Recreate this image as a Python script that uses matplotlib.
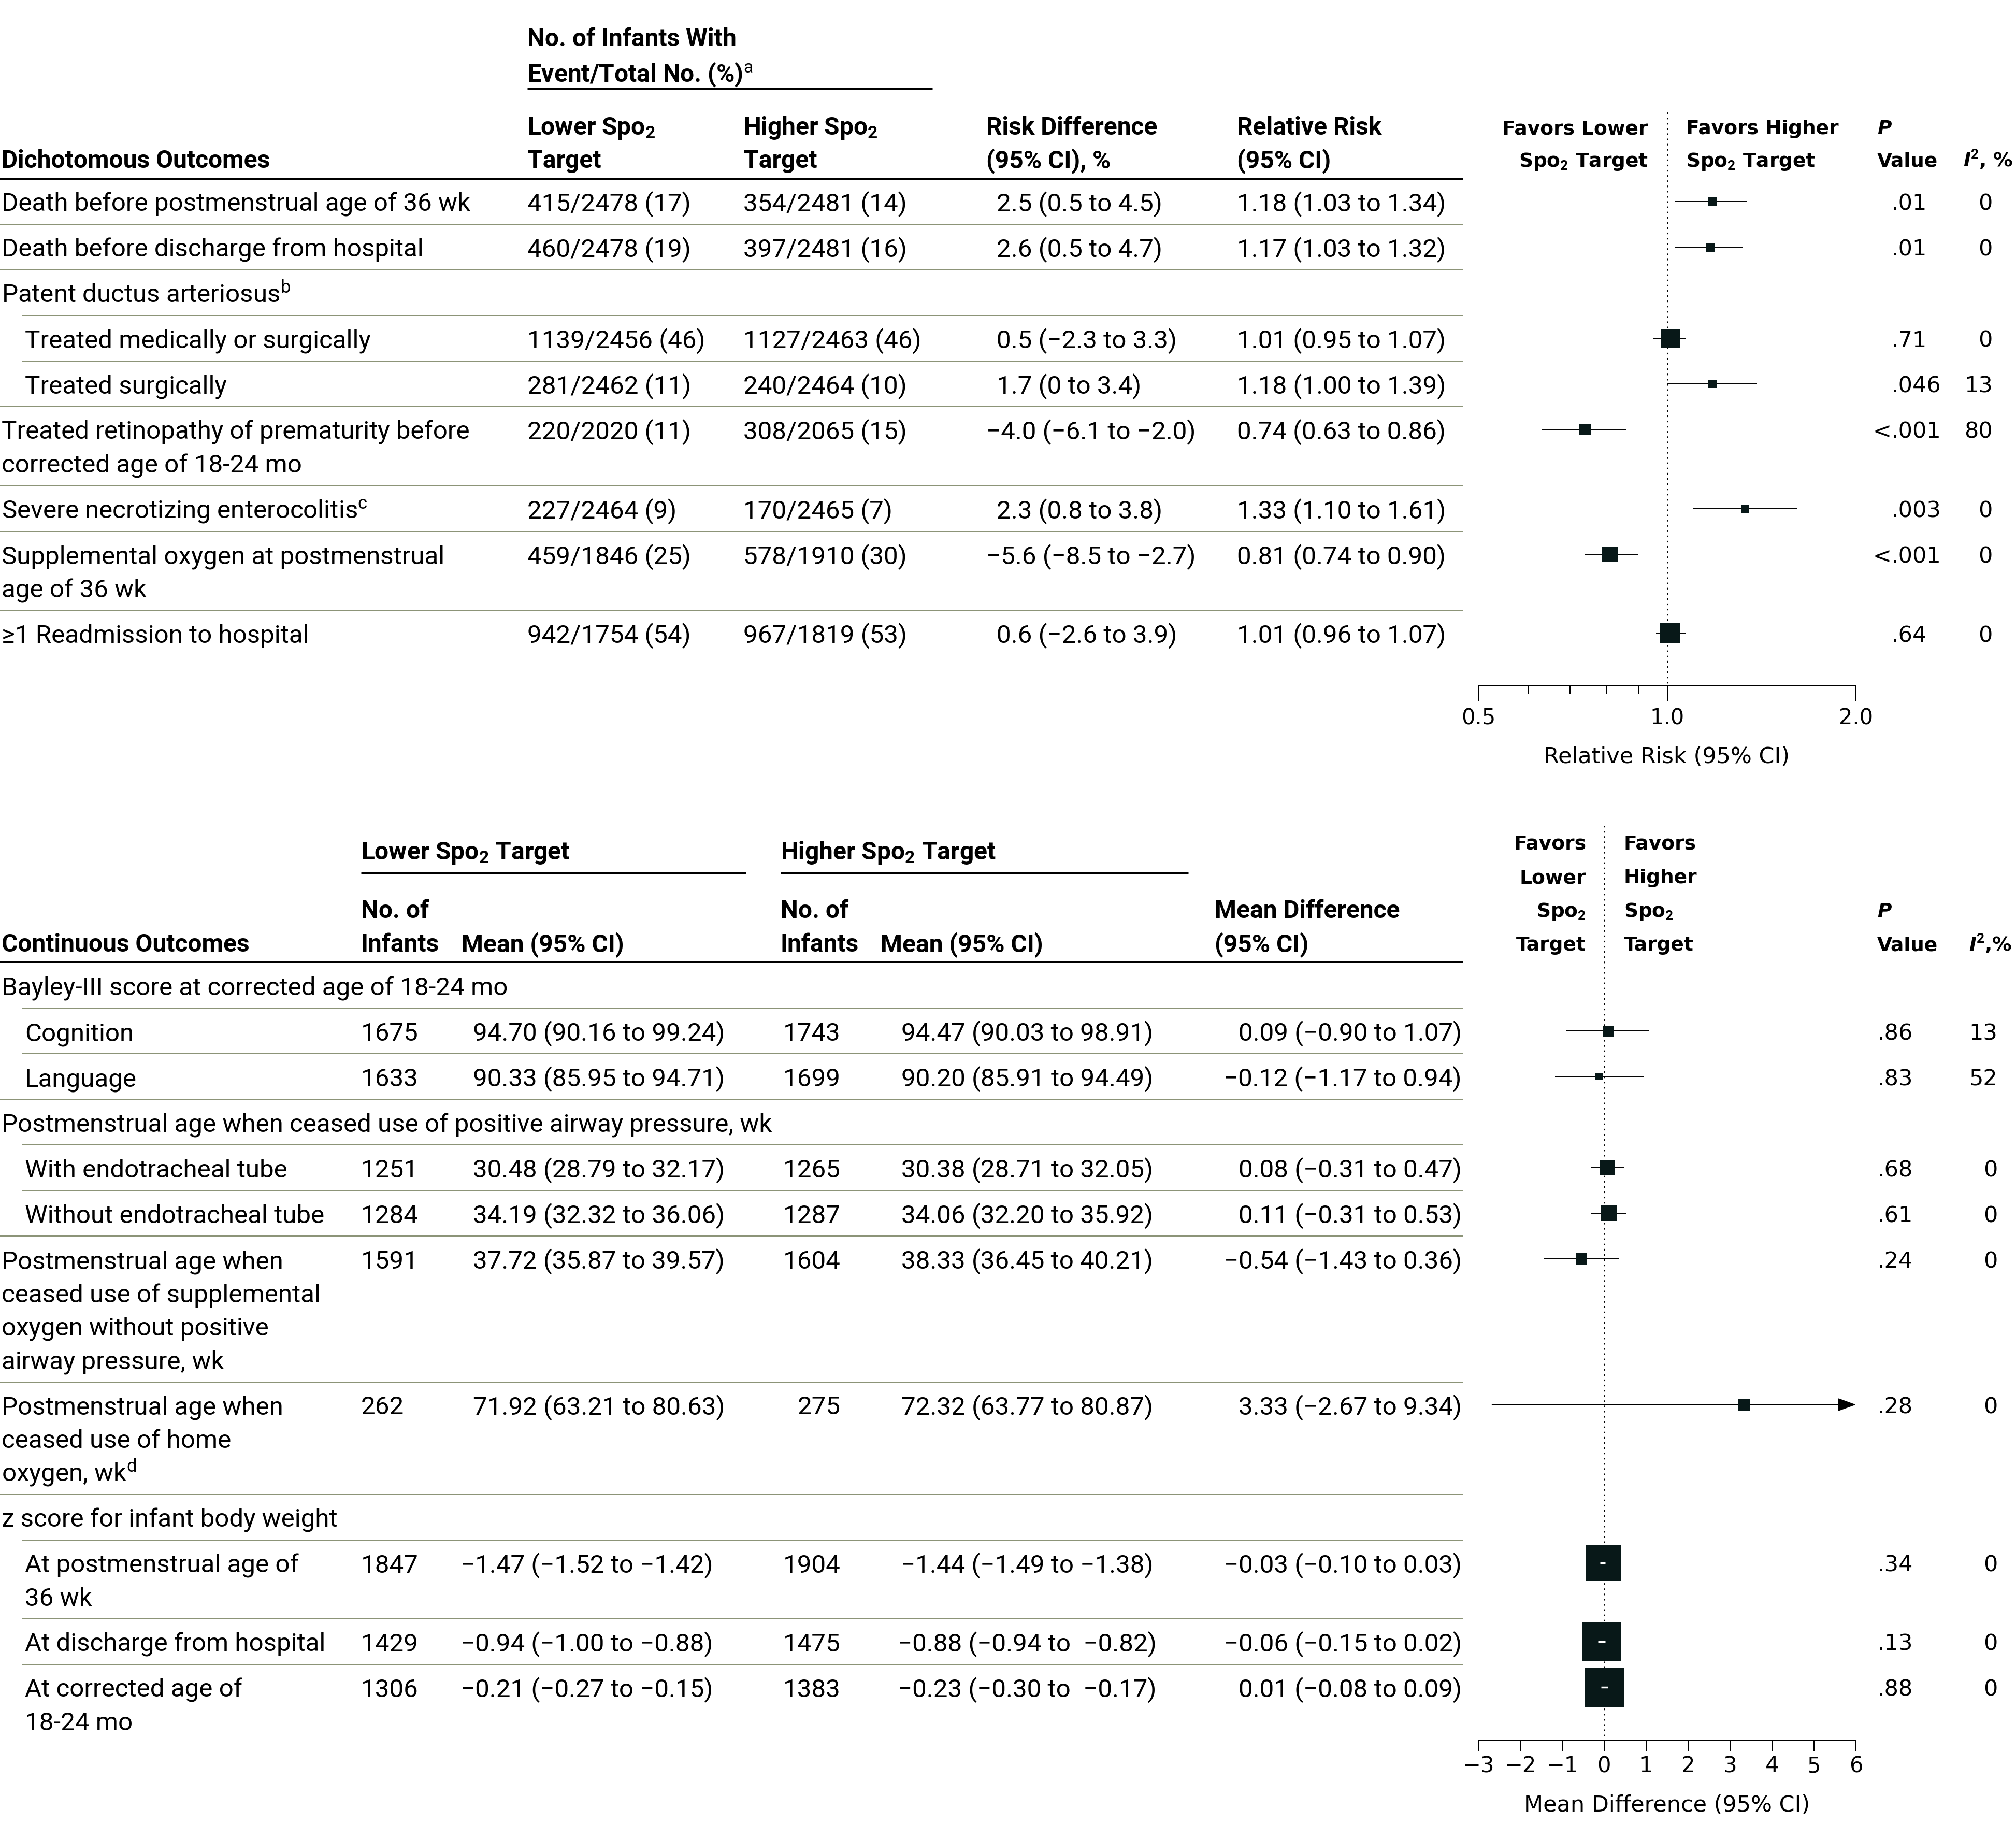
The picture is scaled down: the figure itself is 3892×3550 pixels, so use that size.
import matplotlib
matplotlib.use("Agg")
import matplotlib.pyplot as plt
from matplotlib import font_manager
from matplotlib.ticker import NullFormatter

# ---------------- data ----------------
dich_labels = [
    "Death before postmenstrual age of 36 wk",
    "Death before discharge from hospital",
    "Patent ductus arteriosus$^{\\mathrm{b}}$",
    "Treated medically or surgically",
    "Treated surgically",
    "Treated retinopathy of prematurity before\ncorrected age of 18-24 mo",
    "Severe necrotizing enterocolitis$^{\\mathrm{c}}$",
    "Supplemental oxygen at postmenstrual\nage of 36 wk",
    "≥1 Readmission to hospital",
]
dich_indent = [0, 0, 0, 1, 1, 0, 0, 0, 0]
dich_lower = ["415/2478 (17)", "460/2478 (19)", "", "1139/2456 (46)", "281/2462 (11)",
              "220/2020 (11)", "227/2464 (9)", "459/1846 (25)", "942/1754 (54)"]
dich_higher = ["354/2481 (14)", "397/2481 (16)", "", "1127/2463 (46)", "240/2464 (10)",
               "308/2065 (15)", "170/2465 (7)", "578/1910 (30)", "967/1819 (53)"]
dich_rd = ["2.5 (0.5 to 4.5)", "2.6 (0.5 to 4.7)", "", "0.5 (−2.3 to 3.3)", "1.7 (0 to 3.4)",
           "−4.0 (−6.1 to −2.0)", "2.3 (0.8 to 3.8)", "−5.6 (−8.5 to −2.7)", "0.6 (−2.6 to 3.9)"]
rr = [1.18, 1.17, None, 1.01, 1.18, 0.74, 1.33, 0.81, 1.01]
rr_lo = [1.03, 1.03, None, 0.95, 1.00, 0.63, 1.10, 0.74, 0.96]
rr_hi = [1.34, 1.32, None, 1.07, 1.39, 0.86, 1.61, 0.90, 1.07]
dich_p = [".01", ".01", "", ".71", ".046", "<.001", ".003", "<.001", ".64"]
dich_i2 = ["0", "0", "", "0", "13", "80", "0", "0", "0"]

cont_labels = [
    "Bayley-III score at corrected age of 18-24 mo",
    "Cognition",
    "Language",
    "Postmenstrual age when ceased use of positive airway pressure, wk",
    "With endotracheal tube",
    "Without endotracheal tube",
    "Postmenstrual age when\nceased use of supplemental\noxygen without positive\nairway pressure, wk",
    "Postmenstrual age when\nceased use of home\noxygen, wk$^{\\mathrm{d}}$",
    "z score for infant body weight",
    "At postmenstrual age of\n36 wk",
    "At discharge from hospital",
    "At corrected age of\n18-24 mo",
]
cont_indent = [0, 1, 1, 0, 1, 1, 0, 0, 0, 1, 1, 1]
n_lower = ["", "1675", "1633", "", "1251", "1284", "1591", "262", "", "1847", "1429", "1306"]
mean_lower = ["", "94.70 (90.16 to 99.24)", "90.33 (85.95 to 94.71)", "",
              "30.48 (28.79 to 32.17)", "34.19 (32.32 to 36.06)", "37.72 (35.87 to 39.57)",
              "71.92 (63.21 to 80.63)", "", "−1.47 (−1.52 to −1.42)",
              "−0.94 (−1.00 to −0.88)", "−0.21 (−0.27 to −0.15)"]
n_higher = ["", "1743", "1699", "", "1265", "1287", "1604", "275", "", "1904", "1475", "1383"]
mean_higher = ["", "94.47 (90.03 to 98.91)", "90.20 (85.91 to 94.49)", "",
               "30.38 (28.71 to 32.05)", "34.06 (32.20 to 35.92)", "38.33 (36.45 to 40.21)",
               "72.32 (63.77 to 80.87)", "", "−1.44 (−1.49 to −1.38)",
               "−0.88 (−0.94 to  −0.82)", "−0.23 (−0.30 to  −0.17)"]
md = [None, 0.09, -0.12, None, 0.08, 0.11, -0.54, 3.33, None, -0.03, -0.06, 0.01]
md_lo = [None, -0.90, -1.17, None, -0.31, -0.31, -1.43, -2.67, None, -0.10, -0.15, -0.08]
md_hi = [None, 1.07, 0.94, None, 0.47, 0.53, 0.36, 9.34, None, 0.03, 0.02, 0.09]
cont_p = ["", ".86", ".83", "", ".68", ".61", ".24", ".28", "", ".34", ".13", ".88"]
cont_i2 = ["", "13", "52", "", "0", "0", "0", "0", "", "0", "0", "0"]

# box sizes (px)
rr_box = [16, 17, 0, 37, 16, 23, 15, 30, 40]
md_box = [0, 21, 14, 0, 30, 30, 23, 23, 0, 69, 76, 76]

# ---------------- style ----------------
W, H = 3892, 3550
PX = 0.72  # points per pixel at dpi=100
BOX = "#081818"
SEP = "#8c9478"

names = {f.name for f in font_manager.fontManager.ttflist}
if "Liberation Sans Narrow" in names:
    TF, TS, TBS = "Liberation Sans Narrow", 39, 39
else:
    TF, TS, TBS = "Roboto", 35.5, 34.5
FF, FS, FHS = "DejaVu Sans", 31, 27

plt.rcParams["mathtext.fontset"] = "custom"
plt.rcParams["mathtext.rm"] = TF
plt.rcParams["mathtext.it"] = TF + ":italic"
plt.rcParams["mathtext.bf"] = TF + ":bold"
plt.rcParams["mathtext.bfit"] = "DejaVu Sans:italic:bold"

fig = plt.figure(figsize=(W / 100, H / 100), dpi=100)
lay = fig.add_axes([0, 0, 1, 1])
lay.set_xlim(0, W)
lay.set_ylim(H, 0)
lay.axis("off")


def put(x, y, s, ha="left", bold=False, fam=None, size=None, style="normal", off=19):
    fam = fam or TF
    if size is None:
        size = TBS if bold else TS
    lay.text(x, y + off, s, ha=ha, va="baseline", family=[fam, "DejaVu Sans"],
             fontsize=size, fontweight="bold" if bold else "normal",
             fontstyle=style, color="black")


def fput(x, y, s, ha="left", bold=False, style="normal", size=None):
    put(x, y, s, ha=ha, bold=bold, fam=FF, size=size or (FHS if bold else FS), style=style, off=17)


def hline(y, x0, x1, lw, color):
    lay.plot([x0, x1], [y, y], color=color, lw=lw * PX, solid_capstyle="butt")


def layout_rows(start, labels, h1=88, lh=64.5):
    centers, seps = [], []
    y = start
    for lab in labels:
        centers.append(y + 44)
        y += h1 + (len(lab.split("\n")) - 1) * lh
        seps.append(y)
    return centers, seps


def draw_labels(labels, indent, centers, lh=64.5):
    for lab, ind, yc in zip(labels, indent, centers):
        for k, line in enumerate(lab.split("\n")):
            put(3 + 45 * ind, yc + k * lh, line)


def draw_seps(indent, seps):
    for i in range(len(seps) - 1):
        hline(seps[i], 42 if indent[i + 1] else 0, 2825, 2, SEP)


def forest_axes(ytop, ybot):
    x0, x1 = 2854, 3583
    ax = fig.add_axes([x0 / W, 1 - ybot / H, (x1 - x0) / W, (ybot - ytop) / H])
    ax.set_ylim(ybot, ytop)
    ax.patch.set_visible(False)
    for sp in ("top", "right", "left"):
        ax.spines[sp].set_visible(False)
    ax.spines["bottom"].set_linewidth(2 * PX)
    ax.set_yticks([])
    return ax


# ================= top: dichotomous =================
put(1018, 70, "No. of Infants With", bold=True)
put(1018, 139, "Event/Total No. (%)$^{\\mathrm{a}}$", bold=True)
hline(171, 1018, 1800, 3, "black")
put(1018, 241, "Lower Spo$_\\mathbf{2}$", bold=True)
put(1018, 305, "Target", bold=True)
put(1435, 241, "Higher Spo$_\\mathbf{2}$", bold=True)
put(1435, 305, "Target", bold=True)
put(1904, 241, "Risk Difference", bold=True)
put(1904, 305, "(95% CI), %", bold=True)
put(2388, 241, "Relative Risk", bold=True)
put(2388, 305, "(95% CI)", bold=True)
put(3, 305, "Dichotomous Outcomes", bold=True)
fput(3182, 242, "Favors Lower", ha="right", bold=True)
fput(3182, 305, "Spo$_\\mathbf{2}$ Target", ha="right", bold=True)
fput(3255, 242, "Favors Higher", bold=True)
fput(3255, 305, "Spo$_\\mathbf{2}$ Target", bold=True)
fput(3624, 242, "P", bold=True, style="italic")
fput(3624, 305, "Value", bold=True)
fput(3790, 305, "$\\mathbfit{I}^{\\mathbf{2}}$, %", bold=True)
hline(345, 0, 2825, 4, "black")

top_c, top_s = layout_rows(345, dich_labels)
draw_labels(dich_labels, dich_indent, top_c)
draw_seps(dich_indent, top_s)
for i, yc in enumerate(top_c):
    if rr[i] is None:
        continue
    put(1018, yc, dich_lower[i])
    put(1435, yc, dich_higher[i])
    put(1924 - (20 if dich_rd[i].startswith("−") else 0), yc, dich_rd[i])
    put(2388, yc, f"{rr[i]:.2f} ({rr_lo[i]:.2f} to {rr_hi[i]:.2f})")
    p = dich_p[i]
    if p.startswith("<"):
        fput(3651, yc, "<", ha="right")
        p = p[1:]
    fput(3651, yc, p)
    fput(3847, yc, dich_i2[i], ha="right")

ax1 = forest_axes(180, 1323)
ax1.set_xscale("log")
ax1.set_xlim(0.5, 2.0)
ax1.plot([1, 1], [218, 1323], color="black", lw=2.2, ls=(0, (0.1, 3.2)),
         dash_capstyle="round", zorder=1)
for i, yc in enumerate(top_c):
    if rr[i] is None:
        continue
    ax1.hlines(yc, rr_lo[i], rr_hi[i], color="black", lw=1.4, zorder=2)
    ax1.plot(rr[i], yc, marker="s", ms=rr_box[i] * PX, color=BOX, mew=0, zorder=3)
ax1.set_xticks([0.5, 1, 2])
ax1.set_xticklabels(["0.5", "1.0", "2.0"])
ax1.set_xticks([0.6, 0.7, 0.8, 0.9], minor=True)
ax1.xaxis.set_minor_formatter(NullFormatter())
ax1.tick_params(axis="x", which="major", direction="out", length=30 * PX, width=2 * PX,
                pad=9, labelsize=30, labelfontfamily=FF)
ax1.tick_params(axis="x", which="minor", direction="out", length=17 * PX, width=2 * PX)
fput(3218, 1456, "Relative Risk (95% CI)", ha="center")

# ================= bottom: continuous =================
put(697, 1640, "Lower Spo$_\\mathbf{2}$ Target", bold=True)
hline(1685, 697, 1440, 3, "black")
put(1507, 1640, "Higher Spo$_\\mathbf{2}$ Target", bold=True)
hline(1685, 1507, 2294, 3, "black")
put(697, 1753, "No. of", bold=True)
put(697, 1818, "Infants", bold=True)
put(891, 1818, "Mean (95% CI)", bold=True)
put(1507, 1753, "No. of", bold=True)
put(1507, 1818, "Infants", bold=True)
put(1700, 1818, "Mean (95% CI)", bold=True)
put(2345, 1753, "Mean Difference", bold=True)
put(2345, 1818, "(95% CI)", bold=True)
put(3, 1818, "Continuous Outcomes", bold=True)
for k, s in enumerate(["Favors", "Lower", "Spo$_\\mathbf{2}$", "Target"]):
    fput(3062, 1623 + k * 65, s, ha="right", bold=True)
for k, s in enumerate(["Favors", "Higher", "Spo$_\\mathbf{2}$", "Target"]):
    fput(3135, 1623 + k * 65, s, bold=True)
fput(3624, 1753, "P", bold=True, style="italic")
fput(3624, 1819, "Value", bold=True)
fput(3801, 1819, "$\\mathbfit{I}^{\\mathbf{2}}$,%", bold=True)
hline(1857, 0, 2825, 4, "black")

bot_c, bot_s = layout_rows(1858, cont_labels, h1=88, lh=64.5)
draw_labels(cont_labels, cont_indent, bot_c, lh=64.5)
draw_seps(cont_indent, bot_s)
for i, yc in enumerate(bot_c):
    if md[i] is None:
        continue
    put(697, yc, n_lower[i])
    put(913 - (24 if mean_lower[i].startswith("−") else 0), yc, mean_lower[i])
    put(1623, yc, n_higher[i], ha="right")
    put(1983, yc, mean_higher[i], ha="center")
    md_txt = f"{md[i]:.2f} ({md_lo[i]:.2f} to {md_hi[i]:.2f})".replace("-", "−")
    put(2822, yc, md_txt, ha="right")
    fput(3624, yc, cont_p[i])
    fput(3856, yc, cont_i2[i], ha="right")

ax2 = forest_axes(1560, 3360)
ax2.set_xlim(-3, 6)
ax2.plot([0, 0], [1595, 3360], color="black", lw=2.2, ls=(0, (0.1, 3.2)),
         dash_capstyle="round", zorder=1)
for i, yc in enumerate(bot_c):
    if md[i] is None:
        continue
    if md_hi[i] > 6:
        ax2.annotate("", xy=(6, yc), xytext=(md_lo[i], yc), annotation_clip=False,
                     arrowprops=dict(arrowstyle="-|>,head_length=0.55,head_width=0.2",
                                     mutation_scale=40, lw=1.4, color="black",
                                     shrinkA=0, shrinkB=0))
        ax2.plot(md[i], yc, marker="s", ms=md_box[i] * PX, color=BOX, mew=0, zorder=3)
        continue
    inside = md_box[i] / 81 > (md_hi[i] - md_lo[i])
    ax2.plot(md[i], yc, marker="s", ms=md_box[i] * PX, color=BOX, mew=0, zorder=3)
    ax2.hlines(yc, md_lo[i], md_hi[i], color="white" if inside else "black",
               lw=2.5 if inside else 1.4, zorder=4 if inside else 2)
ax2.set_xticks(range(-3, 7))
ax2.tick_params(axis="x", direction="out", length=20 * PX, width=2 * PX,
                pad=6, labelsize=30, labelfontfamily=FF)
fput(3218, 3480, "Mean Difference (95% CI)", ha="center")

fig.savefig("out.png", dpi=100, facecolor="white")
